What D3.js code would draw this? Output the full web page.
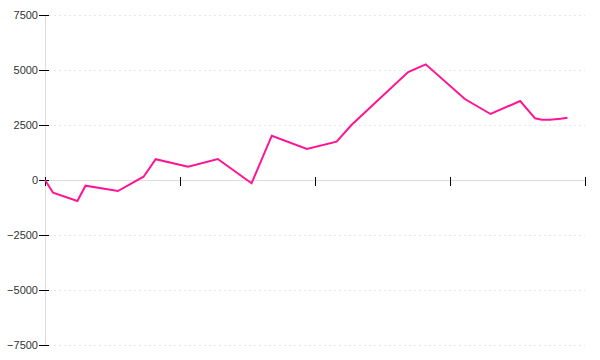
<!DOCTYPE html>
<html>
<head>
<meta charset="utf-8">
<script src="https://cdn.jsdelivr.net/npm/d3@7"></script>
<style>
  html, body { margin: 0; padding: 0; background: #fff; }
  svg { display: block; }
</style>
</head>
<body>
<div id="chart"></div>
<script>
// Data (x in arbitrary units, domain 0..40)
const xValues = [0, 0.6, 2.4, 3.0, 5.4, 7.3, 8.2, 10.6, 12.8, 15.3, 16.8, 19.4, 21.6, 22.7, 26.9, 28.2, 31.1, 33.0, 35.2, 36.3, 36.8, 37.4, 38.2, 38.7];
const yValues = [0, -577, -955, -259, -500, 150, 945, 605, 955, -150, 2014, 1409, 1741, 2500, 4909, 5259, 3682, 3000, 3591, 2805, 2741, 2741, 2786, 2832];
const yTicks = [-7500, -5000, -2500, 0, 2500, 5000, 7500];
const xTicks = [0, 10, 20, 30, 40];

const width = 600, height = 360;
const svg = d3.select("#chart").append("svg").attr("width", width).attr("height", height);

const x = d3.scaleLinear().domain([0, 40]).range([45, 585]);
const y = d3.scaleLinear().domain([-7500, 7500]).range([345, 15]);

// dashed grid
svg.append("g").selectAll("line")
  .data(yTicks.filter(d => d !== 0))
  .join("line")
  .attr("x1", 49).attr("x2", 585)
  .attr("y1", d => y(d) + 0.5).attr("y2", d => y(d) + 0.5)
  .attr("stroke", "#e6e6e6")
  .attr("stroke-width", 1)
  .attr("stroke-dasharray", "2,3");

// y axis line (gray)
svg.append("line")
  .attr("x1", 45.5).attr("x2", 45.5)
  .attr("y1", y(7500)).attr("y2", y(-7500) + 1)
  .attr("stroke", "#dddddd");

// zero line (gray)
svg.append("line")
  .attr("x1", 45).attr("x2", 585)
  .attr("y1", y(0) + 0.5).attr("y2", y(0) + 0.5)
  .attr("stroke", "#dddddd");

// y axis ticks + labels
const yAxis = svg.append("g")
  .attr("transform", "translate(49,0)")
  .call(d3.axisLeft(y).tickValues(yTicks).tickSize(10).tickPadding(1).tickFormat(d3.format("d")));
yAxis.select(".domain").remove();
yAxis.selectAll(".tick line").attr("stroke", "#000");
yAxis.selectAll(".tick text")
  .attr("fill", "#333")
  .style("font-family", "'Liberation Sans', Arial, sans-serif")
  .style("font-size", "11px");

// x axis ticks (no labels)
const xAxis = svg.append("g")
  .attr("transform", "translate(0,177)")
  .call(d3.axisBottom(x).tickValues(xTicks).tickSize(9).tickFormat(""));
xAxis.select(".domain").remove();
xAxis.selectAll(".tick line").attr("stroke", "#000");

// line
const data = xValues.map((d, i) => ({ x: d, y: yValues[i] }));
svg.append("path")
  .datum(data)
  .attr("fill", "none")
  .attr("stroke", "#ff1493")
  .attr("stroke-width", 2)
  .attr("stroke-linejoin", "miter")
  .attr("d", d3.line().x(d => x(d.x)).y(d => y(d.y)));
</script>
</body>
</html>
